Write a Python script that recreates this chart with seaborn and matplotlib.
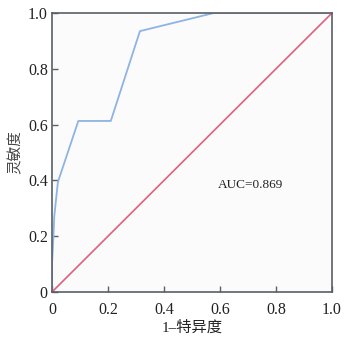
import matplotlib
matplotlib.use("Agg")
import matplotlib.pyplot as plt
import seaborn as sns
import pandas as pd

fpr = [0.0, 0.0, 0.005, 0.008, 0.021, 0.094, 0.21, 0.314, 0.578, 1.0]
tpr = [0.0, 0.10, 0.197, 0.27, 0.394, 0.613, 0.613, 0.935, 1.0, 1.0]
diag = [0.0, 1.0]
auc_text = "AUC=0.869"
ticks = [0, 0.2, 0.4, 0.6, 0.8, 1.0]
tick_labels = ["0", "0.2", "0.4", "0.6", "0.8", "1.0"]

sns.set_style("white")
plt.rcParams['font.family'] = ['Liberation Serif', 'Noto Sans CJK SC', 'DejaVu Sans']

fig = plt.figure(figsize=(3.55, 3.42), dpi=100)
ax = fig.add_axes([52/355, 50/342, 280/355, 279/342])
ax.set_facecolor("#fbfbfc")

roc = pd.DataFrame({"fpr": fpr, "tpr": tpr})
sns.lineplot(data=roc, x="fpr", y="tpr", ax=ax, color="#8db4e2", lw=1.3,
             sort=False, estimator=None)
d = pd.DataFrame({"x": diag, "y": diag})
sns.lineplot(data=d, x="x", y="y", ax=ax, color="#e0607e", lw=1.2,
             sort=False, estimator=None)

ax.set_xlim(0, 1)
ax.set_ylim(0, 1)
ax.set_xticks(ticks)
ax.set_xticklabels(tick_labels)
ax.set_yticks(ticks)
ax.set_yticklabels(tick_labels)
ax.tick_params(axis="both", direction="in", length=4, width=1, color="#5a5f66",
               labelsize=11.5, labelcolor="#222222",
               bottom=True, left=True)
ax.tick_params(axis="x", pad=7)
ax.tick_params(axis="y", pad=3)
for s in ax.spines.values():
    s.set_color("#5a5f66")
    s.set_linewidth(1.2)

ax.set_xlabel("1\u2013特异度", fontsize=11, color="#222222",
              family=['Liberation Serif', 'Noto Sans CJK SC'], labelpad=2)
ax.set_ylabel("灵敏度", fontsize=10.5, color="#444444",
              family=['Noto Sans CJK SC', 'Liberation Serif'], labelpad=4)
ax.text(0.593, 0.384, auc_text, fontsize=9.5, color="#222222",
        va="center", ha="left", transform=ax.transData)

fig.savefig("out.png", dpi=100)
